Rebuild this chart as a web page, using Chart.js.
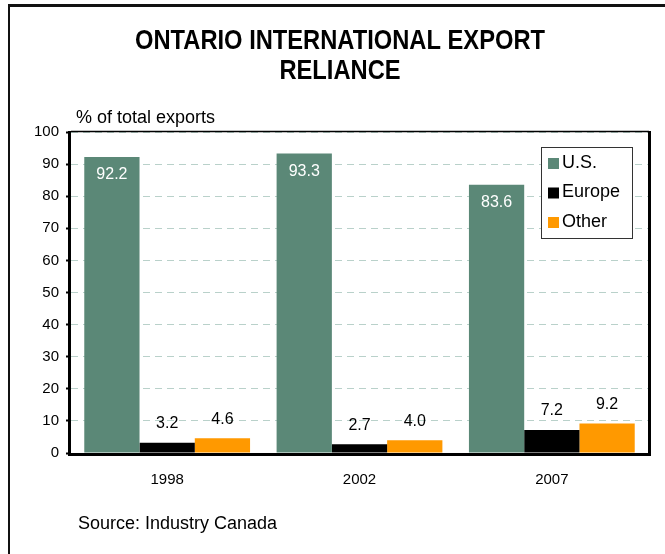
<!DOCTYPE html>
<html>
<head>
<meta charset="utf-8">
<script src="https://cdn.jsdelivr.net/npm/chart.js@4/dist/chart.umd.min.js"></script>
<style>
  html, body { margin: 0; padding: 0; background: #fff; }
  #wrap { position: relative; width: 665px; height: 554px; }
</style>
</head>
<body>
<div id="wrap"><canvas id="export-chart" width="665" height="554"></canvas></div>
<script>
const years = ["1998", "2002", "2007"];
const usShare = [92.2, 93.3, 83.6];
const europeShare = [3.2, 2.7, 7.2];
const otherShare = [4.6, 4.0, 9.2];
const yTicks = [0, 10, 20, 30, 40, 50, 60, 70, 80, 90, 100];
const titleLines = ["ONTARIO INTERNATIONAL EXPORT", "RELIANCE"];

const FONT = "Arial, 'Liberation Sans', sans-serif";
const GREEN = "#5b8877";
const ORANGE = "#ff9900";

// frame, title and footnote around the plot
const framePlugin = {
  id: "frame",
  beforeDraw(chart) {
    const { ctx, width, height } = chart;
    ctx.save();
    ctx.fillStyle = "#fff";
    ctx.fillRect(0, 0, width, height);
    ctx.strokeStyle = "#111";
    ctx.lineWidth = 3;
    ctx.beginPath();
    ctx.moveTo(8, 5.5);
    ctx.lineTo(width, 5.5);
    ctx.stroke();
    ctx.lineWidth = 2;
    ctx.beginPath();
    ctx.moveTo(9, 5);
    ctx.lineTo(9, height);
    ctx.stroke();

    // narrow bold title: squeeze the first line to its box width
    ctx.fillStyle = "#000";
    ctx.textAlign = "center";
    ctx.textBaseline = "middle";
    ctx.font = `bold 28px ${FONT}`;
    const k = 410 / ctx.measureText(titleLines[0]).width;
    ctx.save();
    ctx.translate(340, 41);
    ctx.scale(k, 1);
    titleLines.forEach((line, i) => ctx.fillText(line, 0, i * 30));
    ctx.restore();

    ctx.textAlign = "left";
    ctx.font = `18px ${FONT}`;
    ctx.fillText("% of total exports", 76, 118);
    ctx.fillText("Source: Industry Canada", 78, 524);
    ctx.restore();
  },
  afterDatasetsDraw(chart) {
    const { ctx, chartArea: a } = chart;
    ctx.save();
    ctx.strokeStyle = "#000";
    ctx.lineWidth = 1.5;
    ctx.beginPath();
    ctx.moveTo(a.left, a.top - 0.5);
    ctx.lineTo(a.right + 1, a.top - 0.5);
    ctx.stroke();
    ctx.lineWidth = 3;
    ctx.beginPath();
    ctx.moveTo(a.left - 1.5, a.top - 1);
    ctx.lineTo(a.left - 1.5, a.bottom + 1.5);
    ctx.lineTo(a.right + 1.5, a.bottom + 1.5);
    ctx.lineTo(a.right + 1.5, a.top - 1);
    ctx.stroke();

    // value labels
    ctx.font = `16px ${FONT}`;
    ctx.textAlign = "center";
    ctx.textBaseline = "middle";
    chart.data.datasets.forEach((ds, i) => {
      chart.getDatasetMeta(i).data.forEach((bar, j) => {
        const txt = ds.data[j].toFixed(1);
        if (i === 0) {
          ctx.fillStyle = "#fff";
          ctx.fillText(txt, bar.x, bar.y + 18);
        } else {
          ctx.fillStyle = "#000";
          ctx.fillText(txt, bar.x, bar.y - 19);
        }
      });
    });

    // legend box
    const lx = 541, ly = 147, lw = 91, lh = 91;
    ctx.fillStyle = "#fff";
    ctx.fillRect(lx, ly, lw, lh);
    ctx.strokeStyle = "#333";
    ctx.lineWidth = 1;
    ctx.strokeRect(lx + 0.5, ly + 0.5, lw, lh);
    ctx.font = `18px ${FONT}`;
    ctx.textAlign = "left";
    chart.data.datasets.forEach((ds, i) => {
      const cy = 163 + i * 29.5;
      ctx.fillStyle = ds.backgroundColor;
      ctx.fillRect(548, cy - 5, 11, 11);
      ctx.fillStyle = "#000";
      ctx.fillText(ds.label, 562, cy);
    });
    ctx.restore();
  },
};

new Chart(document.getElementById("export-chart"), {
  type: "bar",
  data: {
    labels: years,
    datasets: [
      { label: "U.S.", data: usShare, backgroundColor: GREEN },
      { label: "Europe", data: europeShare, backgroundColor: "#000000" },
      { label: "Other", data: otherShare, backgroundColor: ORANGE },
    ],
  },
  options: {
    responsive: false,
    animation: false,
    devicePixelRatio: 1,
    categoryPercentage: 0.862,
    barPercentage: 1,
    layout: { padding: { top: 132, left: 31, right: 17, bottom: 61 } },
    plugins: {
      legend: { display: false },
      title: { display: false },
      tooltip: { enabled: false },
    },
    scales: {
      x: {
        afterFit: (s) => { s.height = 40; },
        grid: { display: false },
        border: { display: false },
        ticks: { color: "#000", font: { family: FONT, size: 15 }, padding: 10 },
      },
      y: {
        min: 0,
        max: 100,
        afterFit: (s) => { s.width = 40; },
        afterBuildTicks: (s) => { s.ticks = yTicks.map((v) => ({ value: v })); },
        grid: {
          color: "#b9d1ca",
          lineWidth: 1,
          tickColor: "#000",
          tickLength: 5,
          tickWidth: 2,
        },
        border: { display: false, dash: [7, 5] },
        ticks: { color: "#000", font: { family: FONT, size: 15 }, padding: 7 },
      },
    },
  },
  plugins: [framePlugin],
});
</script>
</body>
</html>
